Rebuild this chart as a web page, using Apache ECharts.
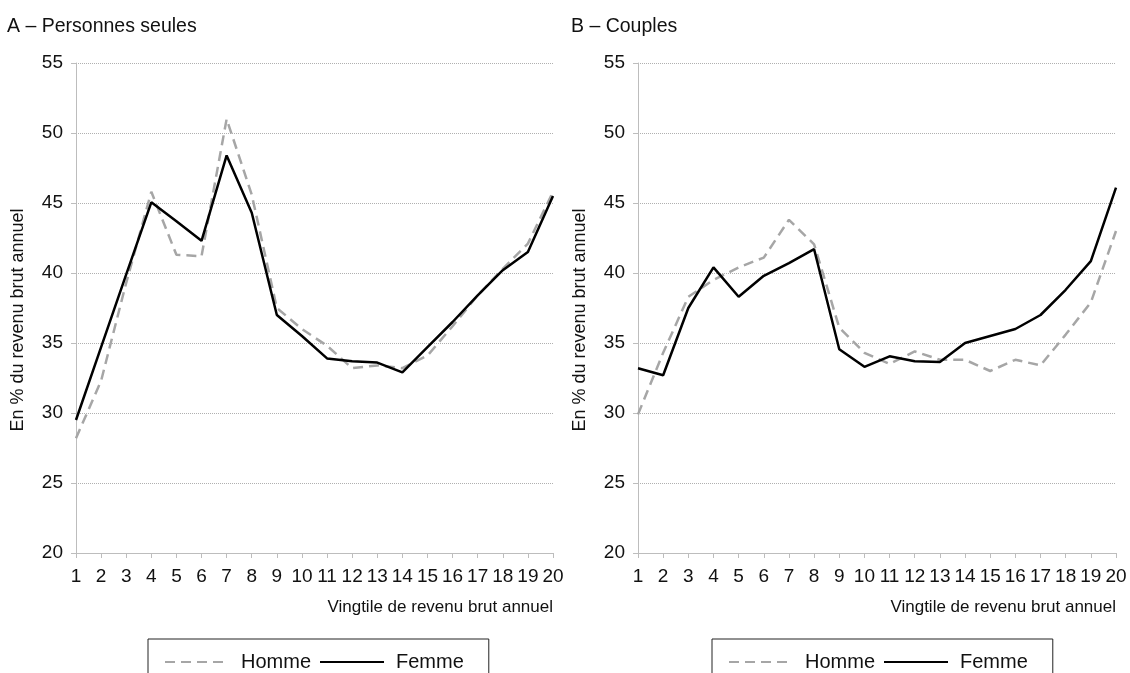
<!DOCTYPE html>
<html>
<head>
<meta charset="utf-8">
<script src="https://cdn.jsdelivr.net/npm/echarts@6/dist/echarts.min.js"></script>
<style>
html,body{margin:0;padding:0;background:#fff;}
#main{width:1130px;height:673px;}
</style>
</head>
<body>
<div id="main"></div>
<script>
// Data
const vingtiles = ['1','2','3','4','5','6','7','8','9','10','11','12','13','14','15','16','17','18','19','20'];
const seulesHomme = [28.2,32.3,39.3,45.8,41.3,41.2,51.0,45.6,37.5,36.0,34.8,33.2,33.4,33.2,34.1,36.2,38.4,40.3,42.1,45.8];
const seulesFemme = [29.5,34.7,39.9,45.05,43.7,42.3,48.4,44.3,37.0,35.5,33.9,33.7,33.6,32.9,34.7,36.5,38.4,40.2,41.5,45.5];
const couplesHomme = [29.9,34.3,38.3,39.5,40.4,41.1,43.8,42.05,36.1,34.3,33.5,34.4,33.8,33.8,33.0,33.8,33.4,35.6,37.9,43.0];
const couplesFemme = [33.2,32.7,37.5,40.4,38.3,39.8,40.7,41.7,34.55,33.3,34.05,33.7,33.65,35.0,35.5,36.0,37.0,38.8,40.85,46.1];
const titles = ['A – Personnes seules', 'B – Couples'];
const yTitle = 'En % du revenu brut annuel';
const xTitle = 'Vingtile de revenu brut annuel';
const seriesNames = ['Homme', 'Femme'];

const FONT = 'Liberation Sans, Arial, sans-serif';
const chart = echarts.init(document.getElementById('main'));

function xAxis(idx) {
  return {
    type: 'category', gridIndex: idx, data: vingtiles, boundaryGap: false,
    axisLine: {lineStyle: {color: '#bdbdbd', width: 1}},
    axisTick: {show: true, length: 5, lineStyle: {color: '#bdbdbd'}, alignWithLabel: true},
    axisLabel: {color: '#111', fontSize: 19, fontFamily: FONT, margin: 14, interval: 0},
    splitLine: {show: false},
    name: xTitle, nameLocation: 'end', nameGap: 0,
    nameTextStyle: {color: '#111', fontSize: 17, fontFamily: FONT, align: 'right', verticalAlign: 'top', padding: [46, 0, 0, 0]}
  };
}
function yAxis(idx) {
  return {
    type: 'value', gridIndex: idx, min: 20, max: 55, interval: 5,
    axisLine: {show: true, lineStyle: {color: '#bdbdbd', width: 1}},
    axisTick: {show: true, length: 5, lineStyle: {color: '#bdbdbd'}},
    axisLabel: {color: '#111', fontSize: 19, fontFamily: FONT, margin: 13},
    splitLine: {show: true, lineStyle: {color: '#b0b0b0', type: 'dotted', width: 1}},
    name: yTitle, nameLocation: 'middle', nameGap: 49,
    nameTextStyle: {color: '#111', fontSize: 18, fontFamily: FONT, padding: [0, 24, 0, 0]}
  };
}
function homme(idx, data) {
  return {name: seriesNames[0], type: 'line', xAxisIndex: idx, yAxisIndex: idx, data: data,
    symbol: 'none', lineStyle: {color: '#a6a6a6', width: 2.5, type: [10, 6]}, itemStyle: {color: '#a6a6a6'}, z: 2};
}
function femme(idx, data) {
  return {name: seriesNames[1], type: 'line', xAxisIndex: idx, yAxisIndex: idx, data: data,
    symbol: 'none', lineStyle: {color: '#000', width: 2.5, type: 'solid'}, itemStyle: {color: '#000'}, z: 3};
}
function legend(left) {
  return {
    left: left, top: 639, orient: 'horizontal', data: seriesNames,
    itemWidth: 64, itemHeight: 14, itemGap: 8,
    padding: [13, 25, 13, 16],
    borderColor: '#222', borderWidth: 1, selectedMode: false,
    itemStyle: {opacity: 0},
    textStyle: {color: '#111', fontSize: 20, fontFamily: FONT, padding: [0, 0, 0, 7]}
  };
}

chart.setOption({
  backgroundColor: '#fff',
  animation: false,
  title: [
    {text: titles[0], left: 2, top: 12, textStyle: {fontSize: 19.5, fontWeight: 'normal', color: '#111', fontFamily: FONT}},
    {text: titles[1], left: 566, top: 12, textStyle: {fontSize: 19.5, fontWeight: 'normal', color: '#111', fontFamily: FONT}}
  ],
  grid: [
    {left: 76, top: 63, width: 477, height: 490},
    {left: 638, top: 63, width: 478, height: 490}
  ],
  xAxis: [xAxis(0), xAxis(1)],
  yAxis: [yAxis(0), yAxis(1)],
  legend: [legend(148), legend(712)],
  series: [
    homme(0, seulesHomme), femme(0, seulesFemme),
    homme(1, couplesHomme), femme(1, couplesFemme)
  ]
});
</script>
</body>
</html>
